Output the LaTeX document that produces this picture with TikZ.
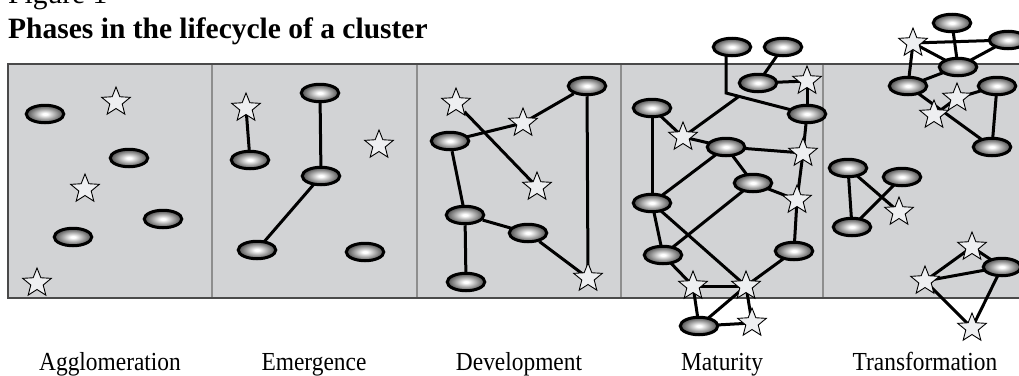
\documentclass[tikz,border=0pt]{standalone}
\usepackage{fontspec}
\setmainfont{Liberation Serif}
\newfontfamily\phasefont[FakeStretch=0.9]{Liberation Serif}
\usetikzlibrary{shapes.geometric,calc}
\pgfdeclarelayer{panel}
\pgfdeclarelayer{edges}
\pgfsetlayers{panel,edges,main}
\definecolor{panelfill}{HTML}{D2D3D5}
\definecolor{panelline}{HTML}{4A4A4A}
\definecolor{divider}{HTML}{8E8E8E}
\definecolor{starfill}{HTML}{EEEFF1}
\pgfdeclareradialshading{firmshade}{\pgfpointorigin}{color(0bp)=(white); color(3bp)=(white); color(25bp)=(black!70); color(50bp)=(black!70)}
\begin{document}
\begin{tikzpicture}[x=1pt,y=-1pt,
  firm/.style={ellipse, draw=black, line width=3pt, minimum width=37.5pt,
    minimum height=17.5pt, inner sep=0pt, shading=firmshade},
  spark/.style={star, star points=5, star point ratio=2.3, minimum size=30pt,
    inner sep=0pt, draw=black, line width=0.9pt, fill=starfill},
  link/.style={line width=3pt, black},
  phase/.style={font=\phasefont\fontsize{26}{30}\selectfont, anchor=base},
  title/.style={font=\fontsize{29.5}{34}\selectfont, anchor=base west, inner sep=0pt}]
\useasboundingbox (0,0) rectangle (1019,375);

% heading
\node[title] (fig) at (8,3) {Figure 1};
\node[title, font=\fontsize{29.5}{34}\selectfont\bfseries] (head) at (8,38) {Phases in the lifecycle of a cluster};

% the strip of five phase panels
\begin{pgfonlayer}{panel}
  \fill[panelfill] (8,64) rectangle (1030,298);
  \foreach \x in {212,417,621,823}
    \draw[divider, line width=1.6pt] (\x,64) -- (\x,298);
  \draw[panelline, line width=1.8pt] (1030,64) -- (8,64) -- (8,298) -- (1030,298);
\end{pgfonlayer}

% Agglomeration
\node[firm]  (a1) at (45,114) {};
\node[spark] (a2) at (116,102) {};
\node[firm]  (a3) at (129,158) {};
\node[spark] (a4) at (85,189) {};
\node[firm]  (a5) at (163,219) {};
\node[firm]  (a6) at (73,237) {};
\node[spark] (a7) at (37,283) {};

% Emergence
\node[spark] (b1) at (246,108) {};
\node[firm]  (b2) at (250,160) {};
\node[firm]  (b3) at (320,93) {};
\node[firm]  (b4) at (321,176) {};
\node[spark] (b5) at (379,145) {};
\node[firm]  (b6) at (257,250) {};
\node[firm]  (b7) at (365,252) {};

% Development
\node[firm]  (c1) at (587,86) {};
\node[spark] (c2) at (456,103) {};
\node[spark] (c3) at (523,123) {};
\node[firm]  (c4) at (450,141) {};
\node[spark] (c5) at (537,187) {};
\node[firm]  (c6) at (465,215) {};
\node[firm]  (c7) at (528,233) {};
\node[firm]  (c8) at (466,282) {};
\node[spark] (c9) at (588,278) {};

% Maturity
\node[firm]  (d1) at (732,47) {};
\node[firm]  (d2) at (783,47) {};
\node[firm]  (d3) at (758,83) {};
\node[spark] (d4) at (807,81) {};
\node[firm]  (d5) at (807,114) {};
\node[firm]  (d6) at (652,108) {};
\node[spark] (d7) at (683,137) {};
\node[firm]  (d8) at (726,147) {};
\node[spark] (d9) at (803,153) {};
\node[firm]  (d10) at (753,183) {};
\node[spark] (d11) at (797,200) {};
\node[firm]  (d12) at (652,203) {};
\node[firm]  (d13) at (663,255) {};
\node[firm]  (d14) at (794,251) {};
\node[spark] (d15) at (693,286) {};
\node[spark] (d16) at (746,286) {};
\node[firm]  (d17) at (699,326) {};
\node[spark] (d18) at (752,323) {};
\coordinate (j1) at (726,93);
\coordinate (j2) at ($(j1)!0.16!(d5.center)$);

% Transformation
\node[firm]  (e1) at (952,23) {};
\node[firm]  (e2) at (1008,40) {};
\node[spark] (e3) at (913,43) {};
\node[firm]  (e4) at (958,67) {};
\node[firm]  (e5) at (908,86) {};
\node[firm]  (e6) at (997,86) {};
\node[spark] (e7) at (957,98) {};
\node[spark] (e8) at (934,115) {};
\node[firm]  (e9) at (992,147) {};
\node[firm]  (e10) at (848,168) {};
\node[firm]  (e11) at (902,177) {};
\node[spark] (e12) at (899,212) {};
\node[firm]  (e13) at (852,227) {};
\node[spark] (e14) at (972,247) {};
\node[firm]  (e15) at (1002,267) {};
\node[spark] (e16) at (925,281) {};
\node[spark] (e17) at (972,328) {};

% ties between firms and institutions
\begin{pgfonlayer}{edges}
  \draw[link] (b1.center) -- (b2.center);
  \draw[link] (b3.center) -- (b4.center);
  \draw[link] (b4.center) -- (b6.center);

  \foreach \p/\q in {c1/c3, c3/c4, c2/c5, c4/c6, c6/c7, c6/c8, c7/c9, c1/c9}
    \draw[link] (\p) -- (\q.center);

  \draw[link] (j1 |- d1.center) -- (j1) -- (d5.center);
  \draw[link] (j2) -- (d7.center);
  \foreach \p/\q in {d2/d3, d3/d4, d4/d5, d5/d9, d6/d12, d6/d7, d7/d8, d8/d9,
      d8/d10, d8/d12, d9/d11, d10/d11, d10/d13, d11/d14, d12/d13, d12/d16,
      d13/d15, d15/d16, d14/d16, d15/d17, d16/d17, d16/d18, d17/d18}
    \draw[link] (\p.center) -- (\q.center);

  \foreach \p/\q in {e3/e2, e3/e4, e3/e5, e1/e4, e4/e2, e4/e5, e5/e9, e6/e7,
      e7/e8, e6/e9, e10/e13, e10/e12, e11/e13, e16/e14, e14/e15, e16/e15,
      e16/e17, e15/e17}
    \draw[link] (\p.center) -- (\q.center);
\end{pgfonlayer}

% phase names
\node[phase] (l1) at (110,370) {Agglomeration};
\node[phase] (l2) at (314,370) {Emergence};
\node[phase] (l3) at (519,370) {Development};
\node[phase] (l4) at (722,370) {Maturity};
\node[phase] (l5) at (925,370) {Transformation};
\end{tikzpicture}
\end{document}
